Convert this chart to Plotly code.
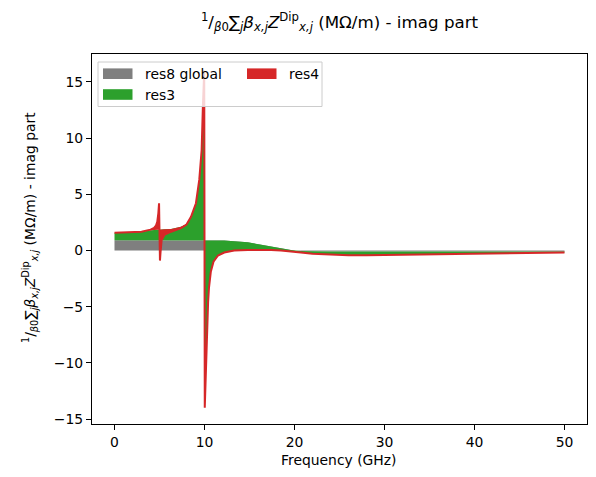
import plotly.graph_objects as go

# frequency samples (GHz) and the three stacked contributions (MOhm/m)
freq = [0, 1, 2, 3, 4, 4.4, 4.6, 4.75, 4.87, 4.95, 5.0, 5.05, 5.12, 5.24, 5.54, 6.28,
        7.39, 8.0, 8.5, 9.05, 9.42, 9.68, 9.82, 9.97, 10.03, 10.1, 10.2, 10.3, 10.4, 10.5,
        10.7, 11.0, 11.5, 12.2, 13.3, 14.8, 16, 17.4, 18.5, 19.6, 20.7, 22, 24, 26, 28,
        30, 33, 37, 40.6, 44, 50]
res8_global = [0.90, 0.90, 0.90, 0.90, 0.90, 0.90, 0.90, 0.90, 0.90, 0.90, 0.90, 0.90, 0.90,
               0.90, 0.90, 0.90, 0.90, 0.90, 0.90, 0.90, 0.90, 0.90, 0.90, 0.92, 0.92, 0.92,
               0.92, 0.92, 0.92, 0.92, 0.92, 0.91, 0.90, 0.88, 0.83, 0.73, 0.55, 0.34, 0.18,
               0.05, -0.05, -0.09, -0.10, -0.10, -0.10, -0.10, -0.10, -0.10, -0.10, -0.10, -0.10]
res3 = [0.67, 0.70, 0.72, 0.75, 0.90, 0.95, 0.95, 0.95, 0.95, 0.95, 0.95, 0.95, 0.95, 0.95,
        0.98, 1.02, 1.20, 1.45, 2.13, 3.32, 5.41, 8.00, 11.9, 15.08, -14.92, -12.92, -9.92,
        -7.42, -5.52, -4.22, -2.82, -1.91, -1.35, -1.06, -0.83, -0.68, -0.49, -0.30, -0.18,
        -0.12, -0.13, -0.21, -0.28, -0.32, -0.32, -0.30, -0.25, -0.20, -0.15, -0.11, -0.08]
res4 = [0, 0, 0, 0.02, 0.05, 0.15, 0.35, 0.70, 1.45, 2.35, -0.15, -2.75, -1.95, -0.92,
        -0.50, -0.25, -0.10, -0.05, -0.03, -0.02, -0.01, 0, 0, 0, 0, 0, 0, 0, 0, 0, 0, 0,
        0, 0, 0, 0, 0, 0, 0, 0, 0, 0, 0, 0, 0, 0, 0, 0, 0, 0, 0]

names = ["res8 global", "res3", "res4"]
colors = ["#7f7f7f", "#2ca02c", "#d62728"]

FONT = "DejaVu Sans"
L, R, T, B = 92, 9, 54, 53
W, H = 596, 477
pw, ph = W - L - R, H - T - B


def px(xp):
    return (xp - L) / pw


def py(yp):
    return 1 - (yp - T) / ph


label = ("<sup>1</sup>/<sub><i>β</i>0</sub>∑<sub><i>j</i></sub><i>β</i><sub><i>x,j</i></sub>"
         "<i>Z</i><sup>Dip</sup><sub><i>x,j</i></sub> (MΩ/m) - imag part")

fig = go.Figure()
for name, vals, col in zip(names, [res8_global, res3, res4], colors):
    fig.add_trace(go.Scatter(x=freq, y=vals, name=name, stackgroup="one", mode="lines",
                             line=dict(color=col, width=2 if name == "res4" else 0),
                             fillcolor=col, showlegend=False))

# legend box, drawn by hand to get matplotlib's two-column layout
shapes = [dict(type="rect", xref="paper", yref="paper", x0=px(98), x1=px(322), y0=py(106.5), y1=py(62),
               fillcolor="rgba(255,255,255,0.8)", line=dict(color="#cccccc", width=1), layer="above")]
annotations = []
legend_pos = [(103, 73.7), (103, 94.5), (247, 73.7)]
for name, col, (lx, ly) in zip(names, colors, legend_pos):
    shapes.append(dict(type="rect", xref="paper", yref="paper", x0=px(lx), x1=px(lx + 29.5),
                       y0=py(ly + 5.3), y1=py(ly - 5.3), fillcolor=col, line=dict(width=0), layer="above"))
    annotations.append(dict(text=name, xref="paper", yref="paper", x=px(lx + 39.5), y=py(ly),
                            xanchor="left", yanchor="middle", showarrow=False,
                            font=dict(family=FONT, size=13.9, color="black")))

annotations.append(dict(text=label, xref="paper", yref="paper", x=px(30), y=py(228),
                        textangle=-90, xanchor="center", yanchor="middle", showarrow=False,
                        font=dict(family=FONT, size=13.9, color="black")))
annotations.append(dict(text="Frequency (GHz)", xref="paper", yref="paper", x=px(339), y=py(460),
                        xanchor="center", yanchor="middle", showarrow=False,
                        font=dict(family=FONT, size=13.9, color="black")))

fig.update_layout(
    width=W, height=H,
    margin=dict(l=L, r=R, t=T, b=B, autoexpand=False),
    paper_bgcolor="white", plot_bgcolor="white",
    font=dict(family=FONT, size=13.9, color="black"),
    title=dict(text=label, x=0.5, xref="paper", y=1 - 22 / H, yref="container",
               xanchor="center", yanchor="middle", font=dict(family=FONT, size=16.7)),
    shapes=shapes, annotations=annotations,
    showlegend=False,
)
axis = dict(showgrid=False, zeroline=False, showline=True, mirror=True, linecolor="black",
            linewidth=1.1, ticks="outside", ticklen=5, tickwidth=1.1, tickcolor="black",
            automargin=False, tickfont=dict(family=FONT, size=13.9, color="black"))
fig.update_xaxes(range=[-2.5, 52.5], tickvals=[0, 10, 20, 30, 40, 50], **axis)
fig.update_yaxes(range=[-15.44, 17.48], tickvals=[-15, -10, -5, 0, 5, 10, 15], **axis)

# the page body has a default 8px margin; drop it so the figure sits at the window's corner
fig.write_html("out.html", config={"displayModeBar": False},
               post_script="document.body.style.margin = '0';")
